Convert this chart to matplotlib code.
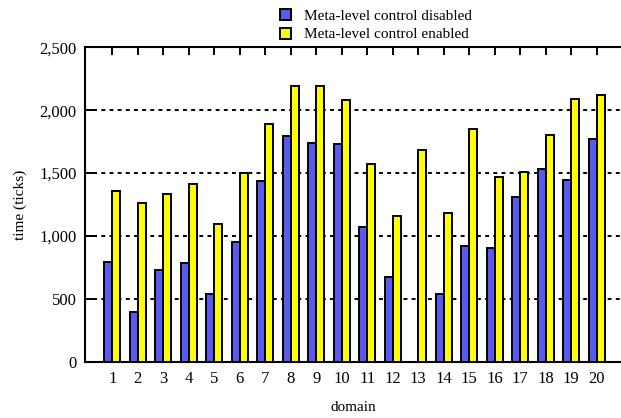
import numpy as np
import matplotlib
matplotlib.use("Agg")
import matplotlib.pyplot as plt
from matplotlib.ticker import StrMethodFormatter

# ── Data ──────────────────────────────────────────────────────────────────────
domains  = list(range(1, 21))
disabled = [795, 398, 729, 787, 536, 952, 1434, 1795, 1742, 1734,
            1074, 676, 0, 538, 917, 901, 1307, 1530, 1442, 1768]
enabled  = [1357, 1260, 1331, 1416, 1097, 1500, 1887, 2195, 2195, 2078,
            1569, 1159, 1683, 1182, 1853, 1468, 1508, 1803, 2086, 2121]
yticks   = [0, 500, 1000, 1500, 2000, 2500]
labels   = ["Meta-level control disabled", "Meta-level control enabled"]

BLUE   = "#5a5af0"
YELLOW = "#ffff00"

plt.rcParams["font.family"] = ["Liberation Serif", "DejaVu Serif"]

fig = plt.figure(figsize=(6.21, 4.18), dpi=100)
ax = fig.add_axes([85 / 621, 56.3 / 418, 536 / 621, 314.4 / 418])

x = np.array(domains)
w = 0.31
ax.bar(x - w / 2, disabled, w, color=BLUE, edgecolor="black", linewidth=1.4,
       label=labels[0], zorder=3)
ax.bar(x + w / 2, enabled, w, color=YELLOW, edgecolor="black", linewidth=1.4,
       label=labels[1], zorder=3)

ax.set_xlim(-0.07, -0.07 + 536 / 25.5)
ax.set_ylim(0, 2500)
ax.set_xticks(domains)
ax.set_yticks(yticks)
ax.yaxis.set_major_formatter(StrMethodFormatter("{x:,.0f}"))

# dotted grid lines
ax.set_axisbelow(True)
ax.yaxis.grid(True, color="black", linewidth=1.4, linestyle=(0, (2, 2.2)))

ax.tick_params(axis="x", direction="in", top=True, bottom=True, length=6,
               width=1.4, labelsize=12, pad=7)
ax.tick_params(axis="y", direction="in", left=True, right=False, length=7,
               width=1.4, labelsize=12, pad=6)

for side in ["left", "top", "bottom"]:
    ax.spines[side].set_linewidth(1.5)
ax.spines["right"].set_visible(False)

ax.set_xlabel("domain", fontsize=11, labelpad=10)
ax.set_ylabel("time (ticks)", fontsize=11, labelpad=9)

leg = ax.legend(loc="upper left", bbox_to_anchor=(280 / 621, 1 - 9 / 418),
                bbox_transform=fig.transFigure, frameon=False, fontsize=11,
                borderpad=0, borderaxespad=0, handlelength=0.75,
                handleheight=0.75, handletextpad=0.8, labelspacing=0.3)

fig.savefig("out.png", dpi=100)
